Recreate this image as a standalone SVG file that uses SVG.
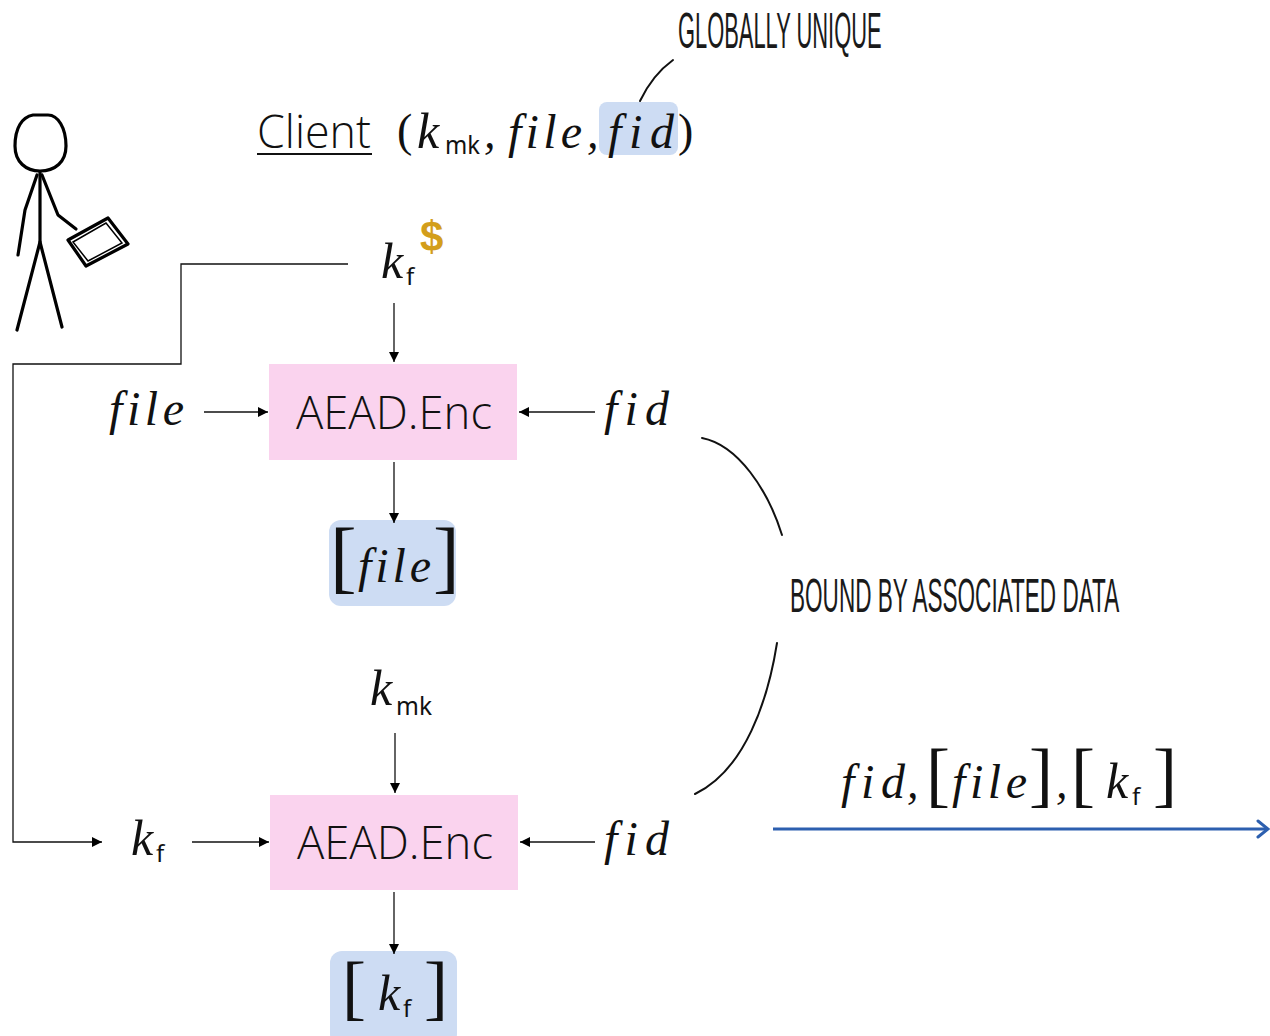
<svg xmlns="http://www.w3.org/2000/svg" width="1270" height="1036" viewBox="0 0 1270 1036">
  <defs>
    <marker id="tri" viewBox="0 0 10 10" refX="10" refY="5" markerWidth="10" markerHeight="10" markerUnits="userSpaceOnUse" orient="auto">
      <path d="M0,0 L10,5 L0,10 Z" fill="#000"/>
    </marker>
    <marker id="chev" viewBox="0 0 14 20" refX="12" refY="10" markerWidth="14" markerHeight="20" markerUnits="userSpaceOnUse" orient="auto">
      <path d="M2,2 L12,10 L2,18" fill="none" stroke="#2c5faf" stroke-width="3" stroke-linecap="round"/>
    </marker>
    <style>
      text { font-variant-ligatures: none; font-feature-settings: "liga" 0, "clig" 0; }
      .sans { font-family: "Open Sans", "Noto Sans", "DejaVu Sans", sans-serif; font-weight: 300; fill: #111; }
      .math { font-family: "Liberation Serif", "DejaVu Serif", serif; font-style: italic; fill: #111; }
      .up { font-family: "Liberation Serif", "DejaVu Serif", serif; fill: #111; }
      .sub { font-family: "Noto Sans", "Open Sans", "DejaVu Sans", sans-serif; fill: #111; }
      .hand { font-family: "Liberation Sans", Arial, sans-serif; font-weight: 400; fill: #1a1a1a; }
      .enc { fill: #fad3ee; }
      .cipher { fill: #cddcf3; }
      .wire { fill: none; stroke: #111; stroke-width: 1.3; }
      .ink { fill: none; stroke: #111; stroke-width: 2; stroke-linecap: round; stroke-linejoin: round; }
      .fig { fill: none; stroke: #000; stroke-width: 3.2; stroke-linecap: round; stroke-linejoin: round; }
    </style>
  </defs>

  <rect width="1270" height="1036" fill="#fff"/>

  <!-- stick figure holding a tablet -->
  <g id="client-figure">
    <path class="fig" d="M33,115 C22,117 15,128 15,146 C15,162 26,171 40,171 C55,171 66,162 66,146 C66,128 58,115 48,115 Z"/>
    <path class="fig" d="M40,172 L40,242"/>
    <path class="fig" d="M40,242 L17,330 M40,242 L62,327"/>
    <path class="fig" d="M37,175 L25,210 L18,255"/>
    <path class="fig" d="M42,175 L58,215 L76,229"/>
    <path class="fig" d="M68,240 L108,218 L128,244 L86,266 Z"/>
    <path d="M73,242 L106,223 L122,243 L88,261 Z" fill="none" stroke="#000" stroke-width="1.5"/>
  </g>

  <!-- header: Client (k_mk, file, fid) -->
  <g id="header">
    <text class="sans" x="257" y="148" font-size="46" textLength="114" lengthAdjust="spacingAndGlyphs">Client</text>
    <line x1="257" y1="154" x2="372" y2="154" stroke="#111" stroke-width="2"/>
    <rect class="cipher" x="599" y="102" width="79" height="53" rx="8"/>
    <text class="up" x="397" y="146" font-size="46">(</text>
    <text class="math" x="417" y="148" font-size="50">k</text>
    <text class="sub" x="445" y="154" font-size="26" textLength="35" lengthAdjust="spacingAndGlyphs">mk</text>
    <text class="math" x="484" y="148" font-size="46">,</text>
    <text class="math" x="508" y="148" font-size="48" textLength="74" lengthAdjust="spacing">file</text>
    <text class="math" x="587" y="148" font-size="46">,</text>
    <text class="math" x="608" y="148" font-size="48" textLength="66" lengthAdjust="spacing">fid</text>
    <text class="up" x="678" y="146" font-size="46">)</text>
  </g>

  <!-- annotation: globally unique -->
  <g id="note-unique">
    <text class="hand" transform="translate(678,48) scale(0.438,1)" font-size="50">GLOBALLY UNIQUE</text>
    <path class="ink" d="M673,60 C662,68 650,80 640,101"/>
  </g>

  <!-- fresh file key -->
  <g id="kf-fresh">
    <text class="math" x="381" y="278" font-size="50">k</text>
    <text class="sub" x="406" y="285" font-size="24">f</text>
    <text x="420" y="251" font-size="42" font-weight="bold" fill="#d39e1b" font-family="Liberation Sans, Arial, sans-serif">$</text>
  </g>

  <!-- first encryption -->
  <g id="enc-file">
    <rect class="enc" x="269" y="364" width="248" height="96"/>
    <text class="sans" x="296" y="429" font-size="46" textLength="196" lengthAdjust="spacingAndGlyphs">AEAD.Enc</text>
  </g>
  <g id="in-file">
    <text class="math" x="109" y="425" font-size="48" textLength="75" lengthAdjust="spacing">file</text>
  </g>
  <g id="in-fid-1">
    <text class="math" x="604" y="425" font-size="48" textLength="65" lengthAdjust="spacing">fid</text>
  </g>
  <g id="ct-file">
    <rect class="cipher" x="329" y="520" width="127" height="86" rx="12"/>
    <text class="up" x="330" y="583" font-size="80">[</text>
    <text class="math" x="358" y="582" font-size="48" textLength="73" lengthAdjust="spacing">file</text>
    <text class="up" x="433" y="583" font-size="80">]</text>
  </g>

  <!-- master key -->
  <g id="kmk">
    <text class="math" x="370" y="705" font-size="50">k</text>
    <text class="sub" x="396" y="715" font-size="26" textLength="36" lengthAdjust="spacingAndGlyphs">mk</text>
  </g>

  <!-- second encryption -->
  <g id="enc-key">
    <rect class="enc" x="270" y="795" width="248" height="95"/>
    <text class="sans" x="297" y="859" font-size="46" textLength="196" lengthAdjust="spacingAndGlyphs">AEAD.Enc</text>
  </g>
  <g id="in-kf">
    <text class="math" x="131" y="855" font-size="50">k</text>
    <text class="sub" x="156" y="862" font-size="24">f</text>
  </g>
  <g id="in-fid-2">
    <text class="math" x="604" y="855" font-size="48" textLength="65" lengthAdjust="spacing">fid</text>
  </g>
  <g id="ct-kf">
    <rect class="cipher" x="330" y="951" width="127" height="95" rx="12"/>
    <text class="up" x="342" y="1011" font-size="72">[</text>
    <text class="math" x="378" y="1010" font-size="50">k</text>
    <text class="sub" x="403" y="1017" font-size="24">f</text>
    <text class="up" x="424" y="1011" font-size="72">]</text>
  </g>

  <!-- annotation: bound by associated data -->
  <g id="note-bound">
    <text class="hand" transform="translate(790,612) scale(0.475,1)" font-size="47.5">BOUND BY ASSOCIATED DATA</text>
    <path class="ink" d="M702,438 C738,445 768,490 782,535"/>
    <path class="ink" d="M777,643 C768,700 745,770 695,794"/>
  </g>

  <!-- sent to server -->
  <g id="upload">
    <text class="math" x="841" y="798" font-size="48" textLength="64" lengthAdjust="spacing">fid</text>
    <text class="math" x="907" y="798" font-size="46">,</text>
    <text class="up" x="926" y="798" font-size="72">[</text>
    <text class="math" x="952" y="798" font-size="48" textLength="75" lengthAdjust="spacing">file</text>
    <text class="up" x="1029" y="798" font-size="72">]</text>
    <text class="math" x="1056" y="798" font-size="46">,</text>
    <text class="up" x="1071" y="798" font-size="72">[</text>
    <text class="math" x="1106" y="798" font-size="50">k</text>
    <text class="sub" x="1132" y="805" font-size="24">f</text>
    <text class="up" x="1153" y="798" font-size="72">]</text>
  </g>

  <!-- connectors -->
  <g id="connectors">
    <path class="wire" d="M348,264 H181 V364 H13 V842 H102" marker-end="url(#tri)"/>
    <path class="wire" d="M394,303 V362" marker-end="url(#tri)"/>
    <path class="wire" d="M204,412 H268" marker-end="url(#tri)"/>
    <path class="wire" d="M595,412 H519" marker-end="url(#tri)"/>
    <path class="wire" d="M394,462 V523" marker-end="url(#tri)"/>
    <path class="wire" d="M395,733 V793" marker-end="url(#tri)"/>
    <path class="wire" d="M192,842 H269" marker-end="url(#tri)"/>
    <path class="wire" d="M595,842 H520" marker-end="url(#tri)"/>
    <path class="wire" d="M394,892 V954" marker-end="url(#tri)"/>
    <path d="M773,829 H1268" fill="none" stroke="#2c5faf" stroke-width="3" marker-end="url(#chev)"/>
  </g>
</svg>
